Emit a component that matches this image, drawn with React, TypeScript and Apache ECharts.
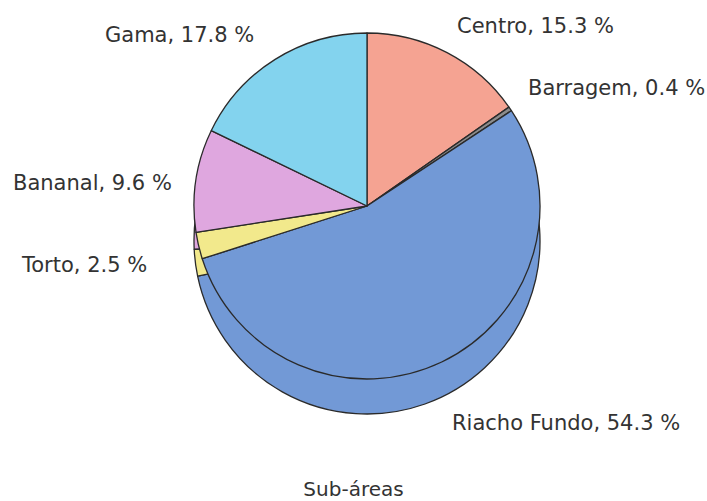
import React, { useEffect, useRef } from "react";
import * as echarts from "echarts";

const names = ["Centro", "Barragem", "Riacho Fundo", "Torto", "Bananal", "Gama"];
const values = [15.3, 0.4, 54.3, 2.5, 9.6, 17.8];
const colors = ["#F5A392", "#8C8C8C", "#7299D6", "#F2E98C", "#DFA7DF", "#83D3EE"];
const axisTitle = "Sub-áreas";

// label anchor positions (left x, middle y) per slice
const labelAnchors: [number, number][] = [
  [457, 26],
  [528, 88],
  [452, 423],
  [22, 265],
  [13, 183],
  [105, 35],
];

const CX = 367;
const CY = 206;
const R = 173;
const DEPTH = 35;
const SIDE_SHIFT = 6; // perspective offset of the side wall

export default function App() {
  const ref = useRef<HTMLDivElement>(null);
  useEffect(() => {
    document.body.style.margin = "0";
    const chart = echarts.init(ref.current!, null, { renderer: "svg" });
    const data = names.map((n, i) => ({
      name: n,
      value: values[i],
      itemStyle: { color: colors[i] },
    }));
    chart.setOption({
      animation: false,
      backgroundColor: "#ffffff",
      title: {
        text: axisTitle,
        left: "center",
        top: 474,
        textStyle: {
          fontFamily: "DejaVu Sans",
          fontSize: 20,
          fontWeight: "normal",
          color: "#333333",
        },
      },
      series: [
        {
          type: "pie",
          silent: true,
          center: [CX, CY + DEPTH],
          radius: R,
          startAngle: 90 - SIDE_SHIFT,
          clockwise: true,
          label: { show: false },
          labelLine: { show: false },
          itemStyle: { borderColor: "#2a2a2a", borderWidth: 1.3 },
          data,
          z: 1,
        },
        {
          type: "pie",
          center: [CX, CY],
          radius: R,
          startAngle: 90,
          clockwise: true,
          avoidLabelOverlap: false,
          label: {
            show: true,
            formatter: "{b}, {c} %",
            fontFamily: "DejaVu Sans",
            fontSize: 21,
            color: "#333333",
          },
          labelLine: { show: false },
          labelLayout: (p: any) => {
            const a = labelAnchors[p.dataIndex];
            return { x: a[0], y: a[1], align: "left", verticalAlign: "middle" };
          },
          itemStyle: { borderColor: "#2a2a2a", borderWidth: 1.3 },
          data,
          z: 2,
        },
      ],
    });
    return () => chart.dispose();
  }, []);
  return <div ref={ref} style={{ width: 707, height: 501 }} />;
}
